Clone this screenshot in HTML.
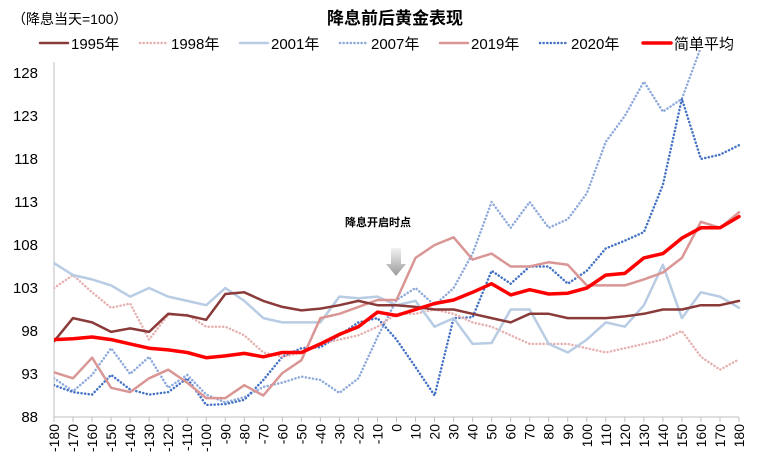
<!DOCTYPE html>
<html><head><meta charset="utf-8"><style>
body{margin:0;background:#fff;}
svg text{font-family:"Liberation Sans","Noto Sans CJK SC",sans-serif;}
</style></head><body>
<svg id="chart" width="758" height="470" xmlns="http://www.w3.org/2000/svg">
<defs>
<clipPath id="plotclip"><rect x="54" y="50" width="690" height="368"/></clipPath>
<linearGradient id="arrowg" x1="0" y1="0" x2="0" y2="1"><stop offset="0" stop-color="#f2f2f2"/><stop offset="1" stop-color="#9a9a9a"/></linearGradient>
</defs>
<text x="395" y="24" text-anchor="middle" font-size="17" font-weight="bold" fill="#000">降息前后黄金表现</text>
<text x="12" y="24" font-size="14" fill="#000">（降息当天=100）</text>
<g id="legend"></g>
<g id="axes"></g>
<g id="series" clip-path="url(#plotclip)"></g>
<text x="378" y="226" text-anchor="middle" font-size="11" font-weight="bold" fill="#000">降息开启时点</text>
<polygon points="391,248 401,248 401,264 406,264 396,276 386,264 391,264" fill="url(#arrowg)"/>
</svg>
<script>
const days = [-180,-170,-160,-150,-140,-130,-120,-110,-100,-90,-80,-70,-60,-50,-40,-30,-20,-10,0,10,20,30,40,50,60,70,80,90,100,110,120,130,140,150,160,170,180];
const yTicks = [88,93,98,103,108,113,118,123,128];
const xTicks = [-180,-170,-160,-150,-140,-130,-120,-110,-100,-90,-80,-70,-60,-50,-40,-30,-20,-10,0,10,20,30,40,50,60,70,80,90,100,110,120,130,140,150,160,170,180];
const s1995 = [96.8,99.5,99,97.9,98.3,97.9,100,99.8,99.3,102.3,102.5,101.5,100.8,100.4,100.6,101,101.5,101,101,100.8,100.5,100.5,100,99.5,99,100,100,99.5,99.5,99.5,99.7,100,100.5,100.5,101,101,101.5];
const s1998 = [103,104.5,102.5,100.7,101.2,97,99.9,99.9,98.5,98.5,97.5,95.5,95,95.5,96.5,97,97.5,98.5,100,100,100.5,100,99,98.5,97.5,96.5,96.5,96.5,96,95.5,96,96.5,97,98,95,93.5,94.7];
const s2001 = [105.9,104.5,104,103.3,102,103,102,101.5,101,103,101.5,99.5,99,99,99,102,101.8,102,101,101.5,98.5,99.5,96.5,96.6,100.5,100.5,96.5,95.5,97,99,98.5,101,105.7,99.5,102.5,102,100.7];
const s2007 = [92.5,91,92.9,96,93,95,91.4,92.9,90.6,89.7,90.3,91.5,92,92.7,92.3,90.8,92.5,97.3,101.6,103,101,103,107,113,110,113,110,111,114,120,123,127,123.5,125,131,131,131];
const s2019 = [93.2,92.5,94.9,91.4,90.9,92.5,93.5,92,90.2,90.2,91.7,90.5,93.1,94.6,99.5,100,100.8,101.6,101.6,106.5,108,108.9,106.3,107,105.5,105.5,106,105.7,103.3,103.3,103.3,104,104.8,106.5,110.7,110,111.8];
const s2020 = [91.7,90.9,90.6,92.9,91.2,90.6,90.9,92.5,89.4,89.5,90,92.3,95,96,96.1,97.5,99,99.5,97,93.8,90.5,99.5,99.6,105,103.5,105.5,105.5,103.5,105,107.6,108.5,109.5,115,125,118,118.5,119.6];
const sAvg = [97,97.1,97.3,97,96.5,96,95.8,95.5,94.9,95.1,95.4,95,95.5,95.5,96.5,97.6,98.5,100.2,99.8,100.5,101.2,101.6,102.5,103.5,102.2,102.8,102.3,102.4,103,104.5,104.7,106.5,107,108.8,110,110,111.3];

const NS="http://www.w3.org/2000/svg";
const X0=54,X1=739,Y0=417,Y1=73;
function xs(d){return X0+(d+180)/360*(X1-X0);}
function ys(v){return Y0-(v-88)/40*(Y0-Y1);}
function mk(tag,attrs,parent){const e=document.createElementNS(NS,tag);for(const k in attrs)e.setAttribute(k,attrs[k]);parent.appendChild(e);return e;}
const axes=document.getElementById('axes');
const yl=mk('line',{x1:X0,y1:62,x2:X0,y2:Y0,stroke:'#bfbfbf','stroke-width':1},axes);


const xl=mk('line',{x1:X0,y1:Y0,x2:X1,y2:Y0,stroke:'#bfbfbf','stroke-width':1},axes);


yTicks.forEach(v=>{
  const t=mk('text',{x:38,y:ys(v)+5,'text-anchor':'end','font-size':15,fill:'#000'},axes);
  t.textContent=v;
  
  
});
xTicks.forEach(d=>{
  const x=xs(d);
  const tk=mk('line',{x1:x,y1:Y0,x2:x,y2:Y0+5,stroke:'#bfbfbf','stroke-width':1},axes);
  
  
  const t=mk('text',{x:0,y:0,'text-anchor':'end','font-size':14,fill:'#000',transform:`translate(${x+5},${Y0+7}) rotate(-90)`},axes);
  t.textContent=d;
  
  
});
const seriesDefs=[
  {name:'series-2007',vals:s2007,color:'#8EA9DB',w:2.5,dash:'0.1,3.5'},
  {name:'series-2020',vals:s2020,color:'#4472C4',w:2.5,dash:'0.1,3.5'},
  {name:'series-1998',vals:s1998,color:'#E6B0B0',w:2.5,dash:'0.1,3.5'},
  {name:'series-2001',vals:s2001,color:'#B8CCE4',w:2.5,dash:null},
  {name:'series-2019',vals:s2019,color:'#D99694',w:2.5,dash:null},
  {name:'series-1995',vals:s1995,color:'#8B3A3A',w:2.5,dash:null},
  {name:'series-average',vals:sAvg,color:'#FF0000',w:3.5,dash:null}
];
const sg=document.getElementById('series');
seriesDefs.forEach(s=>{
  const pts=days.map((d,i)=>xs(d).toFixed(1)+','+ys(s.vals[i]).toFixed(1)).join(' ');
  const a={points:pts,fill:'none',stroke:s.color,'stroke-width':s.w,'stroke-linejoin':'round','stroke-linecap':'round'};
  if(s.dash)a['stroke-dasharray']=s.dash;
  const p=mk('polyline',a,sg);
  
  
});
const legendItems=[
  {label:'1995年',color:'#8B3A3A',dash:null,x:40},
  {label:'1998年',color:'#E6B0B0',dash:'0.1,3.5',x:140},
  {label:'2001年',color:'#B8CCE4',dash:null,x:240},
  {label:'2007年',color:'#8EA9DB',dash:'0.1,3.5',x:340},
  {label:'2019年',color:'#D99694',dash:null,x:440},
  {label:'2020年',color:'#4472C4',dash:'0.1,3.5',x:540},
  {label:'简单平均',color:'#FF0000',dash:null,x:643}
];
const lg=document.getElementById('legend');
legendItems.forEach(it=>{
  const g=mk('g',{},lg);
  
  
  const a={x1:it.x,y1:43,x2:it.x+28,y2:43,stroke:it.color,'stroke-width':it.label==='简单平均'?3.5:2.5,'stroke-linecap':'round'};
  if(it.dash)a['stroke-dasharray']=it.dash;
  mk('line',a,g);
  const t=mk('text',{x:it.x+31,y:49,'font-size':15,fill:'#000'},g);
  t.textContent=it.label;
});
</script>
</body></html>
